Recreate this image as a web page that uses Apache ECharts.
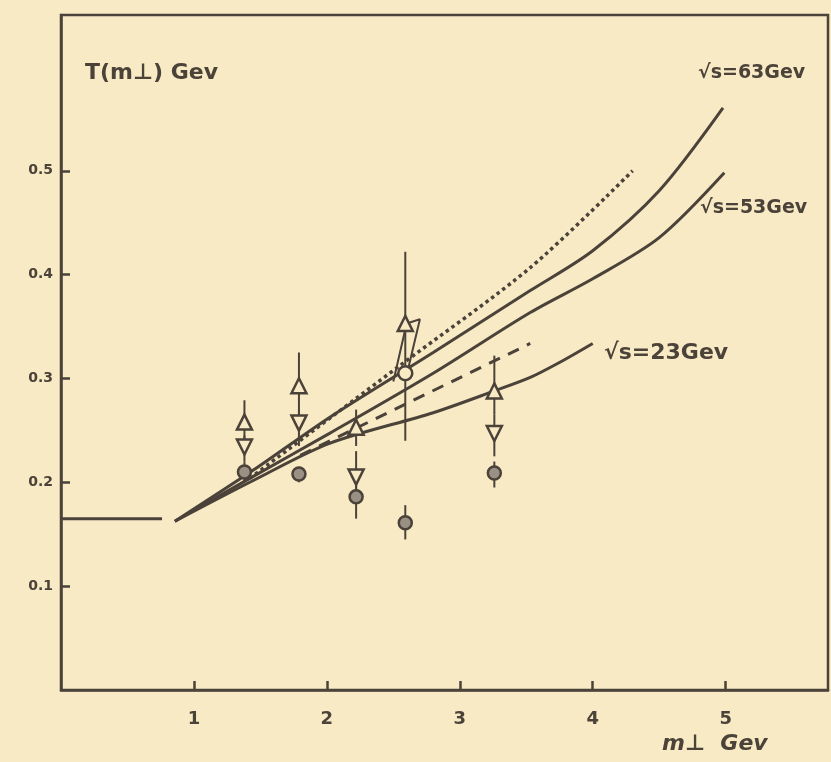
<!DOCTYPE html>
<html>
<head>
<meta charset="utf-8">
<script src="https://cdn.jsdelivr.net/npm/echarts@6/dist/echarts.min.js"></script>
<style>
  html, body { margin: 0; padding: 0; background: #f7eac4; }
  #chart { width: 831px; height: 762px; }
</style>
</head>
<body>
<div id="chart"></div>
<script>
// curves: [m_perp, T]
const curve63 = [[0.857, 0.1625], [1.45, 0.212], [2.02, 0.2625], [2.8, 0.325], [3.53, 0.3846], [4.0, 0.423], [4.5, 0.4808], [4.98, 0.5606]];
const curve53 = [[0.857, 0.1625], [1.45, 0.206], [2.02, 0.2471], [2.8, 0.305], [3.53, 0.3635], [4.0, 0.396], [4.5, 0.4356], [4.99, 0.4981]];
const curve23 = [[0.857, 0.1625], [1.45, 0.202], [2.02, 0.2375], [2.8, 0.267], [3.26, 0.288], [3.53, 0.301], [3.75, 0.3154], [4.0, 0.3337]];
const dottedLine = [[1.42, 0.2038], [2.55, 0.3125], [3.53, 0.4067], [4.3, 0.5]];
const dashedLine = [[1.8, 0.226], [3.53, 0.3337]];
const flatLine = [[0.0, 0.165], [0.76, 0.165]];
const kinkLine = [[2.5, 0.297], [2.6, 0.353], [2.7, 0.357], [2.6, 0.303]];

// measured points
const upX = [1.38, 1.79, 2.22, 2.59, 3.26];
const upY = [0.258, 0.293, 0.253, 0.353, 0.288];
const upLo = [0.24, 0.265, 0.235, 0.30, 0.265];
const upHi = [0.279, 0.325, 0.27, 0.422, 0.322];

const downX = [1.38, 1.79, 2.22, 3.26];
const downY = [0.234, 0.257, 0.205, 0.247];
const downLo = [0.22, 0.235, 0.19, 0.225];
const downHi = [0.245, 0.27, 0.23, 0.265];

const openX = [2.59];
const openY = [0.305];
const openLo = [0.24];
const openHi = [0.31];

const dotX = [1.38, 1.79, 2.22, 2.59, 3.26];
const dotY = [0.21, 0.208, 0.186, 0.161, 0.209];
const dotLo = [0.2, 0.2, 0.165, 0.145, 0.195];
const dotHi = [0.22, 0.215, 0.2, 0.178, 0.22];

const xTicks = [1, 2, 3, 4, 5];
const yTicks = [0.1, 0.2, 0.3, 0.4, 0.5];

const ink = "#4b4239";
const paper = "#f7eac4";

const pts = (xs, ys) => xs.map((x, i) => [x, ys[i]]);
const bars = (xs, lo, hi) => xs.map((x, i) => [x, lo[i], hi[i]]);

function lineSeries(data, type, width) {
  return {
    type: "line",
    data: data,
    smooth: 0.3,
    showSymbol: false,
    silent: true,
    lineStyle: { color: ink, width: width || 3, type: type || "solid" },
    z: 3
  };
}

function errSeries(data) {
  return {
    type: "custom",
    data: data,
    silent: true,
    z: 4,
    renderItem: function (params, api) {
      const a = api.coord([api.value(0), api.value(1)]);
      const b = api.coord([api.value(0), api.value(2)]);
      return {
        type: "line",
        shape: { x1: a[0], y1: a[1], x2: b[0], y2: b[1] },
        style: { stroke: ink, lineWidth: 2 }
      };
    }
  };
}

function markSeries(data, symbol, size, fill) {
  return {
    type: "scatter",
    data: data,
    symbol: symbol,
    symbolSize: size,
    silent: true,
    z: 5,
    itemStyle: { color: fill, borderColor: ink, borderWidth: 2.5, opacity: 1 }
  };
}

const chart = echarts.init(document.getElementById("chart"));
chart.setOption({
  backgroundColor: paper,
  animation: false,
  textStyle: { fontFamily: "DejaVu Sans" },
  grid: {
    left: 61, right: 3, top: 15, bottom: 72,
    show: true, borderColor: ink, borderWidth: 2.5, backgroundColor: "transparent"
  },
  xAxis: {
    type: "value",
    min: 0, max: 5.77,
    axisLine: { show: true, lineStyle: { color: ink, width: 2.5 } },
    axisTick: { show: true, inside: true, length: 9, customValues: xTicks, lineStyle: { color: ink, width: 2.5 } },
    axisLabel: { customValues: xTicks, margin: 20, color: ink, fontSize: 18, fontWeight: "bold" },
    splitLine: { show: false }
  },
  yAxis: {
    type: "value",
    min: 0, max: 0.65,
    axisLine: { show: true, lineStyle: { color: ink, width: 2.5 } },
    axisTick: { show: true, inside: true, length: 9, customValues: yTicks, lineStyle: { color: ink, width: 2.5 } },
    axisLabel: { customValues: yTicks, margin: 8, color: ink, fontSize: 14, fontWeight: "bold", formatter: v => v.toFixed(1) },
    splitLine: { show: false }
  },
  graphic: [
    { type: "text", left: 85, top: 62, style: { text: "T(m⊥) Gev", fill: ink, font: "bold 22px DejaVu Sans" } },
    { type: "text", left: 698, top: 64, style: { text: "√s=63Gev", fill: ink, font: "bold 19px DejaVu Sans" } },
    { type: "text", left: 700, top: 199, style: { text: "√s=53Gev", fill: ink, font: "bold 19px DejaVu Sans" } },
    { type: "text", left: 604, top: 342, style: { text: "√s=23Gev", fill: ink, font: "bold 22px DejaVu Sans" } },
    { type: "text", left: 662, top: 733, style: { text: "m⊥  Gev", fill: ink, font: "bold italic 22px DejaVu Sans" } }
  ],
  series: [
    lineSeries(flatLine),
    lineSeries(curve63),
    lineSeries(curve53),
    lineSeries(curve23),
    lineSeries(dottedLine, "dotted", 3.5),
    Object.assign(lineSeries(dashedLine, [12, 9], 3), { smooth: false }),
    Object.assign(lineSeries(kinkLine, "solid", 2), { smooth: false }),
    errSeries(bars(upX, upLo, upHi)),
    errSeries(bars(downX, downLo, downHi)),
    errSeries(bars(openX, openLo, openHi)),
    errSeries(bars(dotX, dotLo, dotHi)),
    markSeries(pts(upX, upY), "triangle", 15, paper),
    markSeries(pts(downX, downY), "path://M0,0 L10,0 L5,9 Z", 15, paper),
    markSeries(pts(openX, openY), "circle", 14, paper),
    markSeries(pts(dotX, dotY), "circle", 13, "#9a9184")
  ]
});
</script>
</body>
</html>
